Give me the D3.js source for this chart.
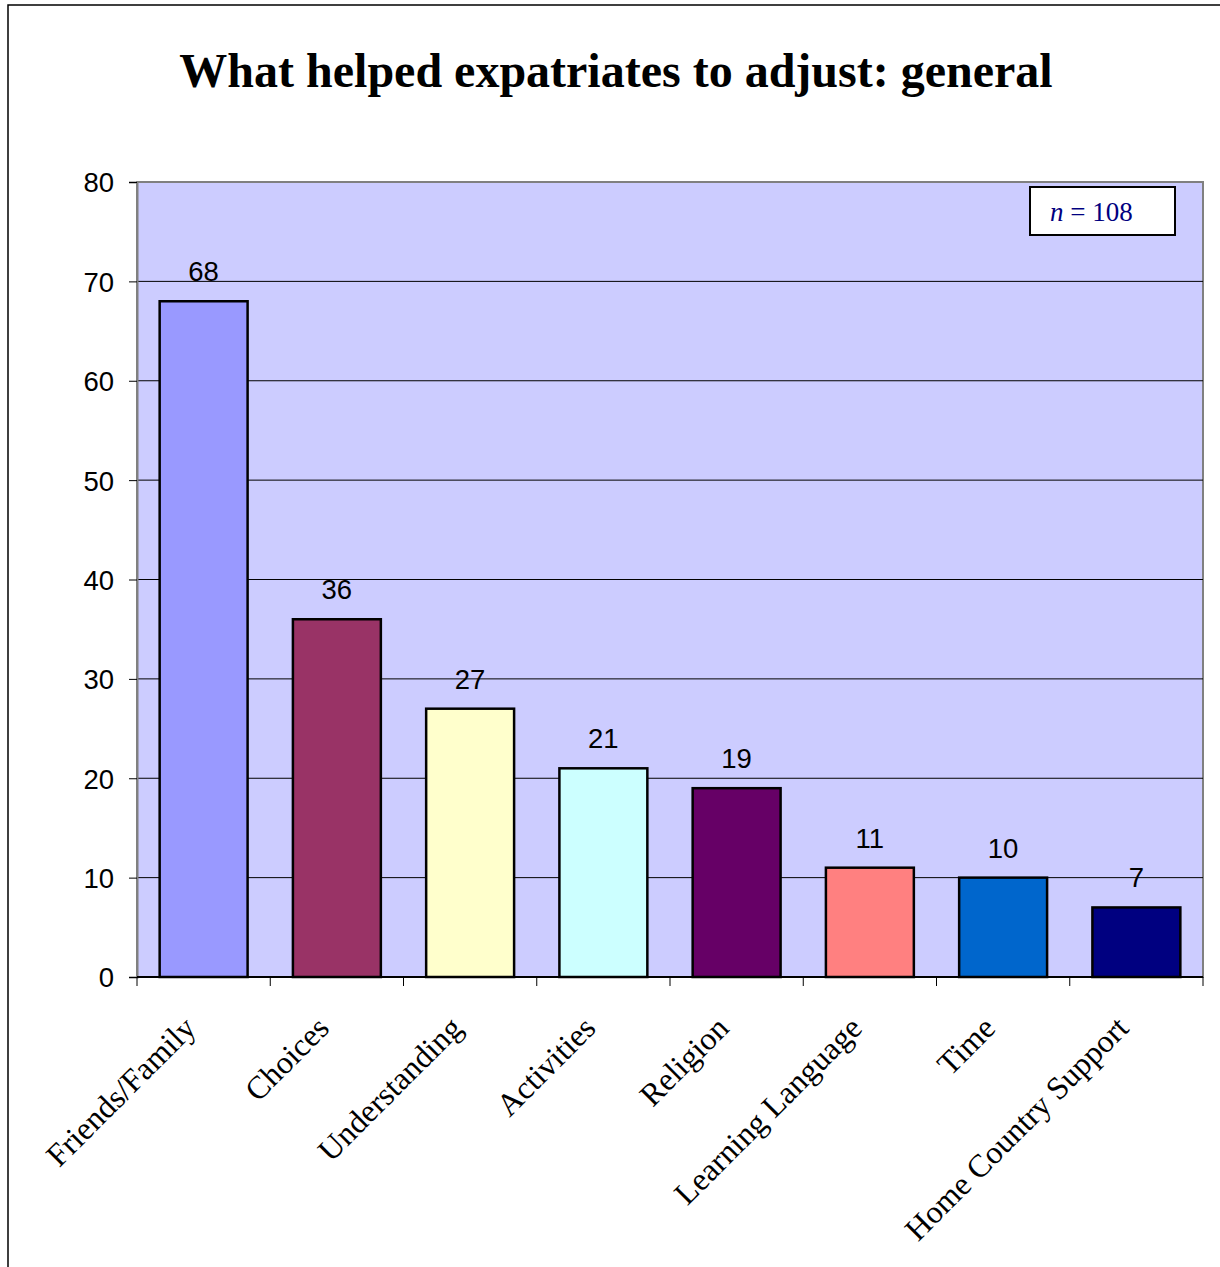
<!DOCTYPE html>
<html>
<head>
<meta charset="utf-8">
<script src="https://cdn.jsdelivr.net/npm/d3@7"></script>
<style>
  body { margin: 0; background: #fff; }
  svg { display: block; }
</style>
</head>
<body>
<script>
// values
const categories = ["Friends/Family", "Choices", "Understanding", "Activities", "Religion", "Learning Language", "Time", "Home Country Support"];
const counts = [68, 36, 27, 21, 19, 11, 10, 7];
const barColors = ["#9999FF", "#993366", "#FFFFCC", "#CCFFFF", "#660066", "#FF8080", "#0066CC", "#000080"];
const yTicks = [0, 10, 20, 30, 40, 50, 60, 70, 80];
const titleText = "What helped expatriates to adjust: general";
const sampleSize = 108;

const width = 1220, height = 1267;
const plot = { left: 137, right: 1203, top: 182, bottom: 977 };

const svg = d3.select("body").append("svg")
  .attr("width", width)
  .attr("height", height);

// outer frame (runs off the right/bottom edge in the original)
svg.append("rect")
  .attr("x", 8).attr("y", 5)
  .attr("width", width + 20).attr("height", height + 20)
  .attr("fill", "#fff")
  .attr("stroke", "#000")
  .attr("stroke-width", 1.5);

svg.append("text")
  .attr("x", 616).attr("y", 87)
  .attr("text-anchor", "middle")
  .style("font", "bold 48px 'Liberation Serif', 'Times New Roman', serif")
  .text(titleText);

const x = d3.scaleBand()
  .domain(categories)
  .range([plot.left, plot.right])
  .paddingInner(0.34)
  .paddingOuter(0.17);

const y = d3.scaleLinear()
  .domain([0, 80])
  .range([plot.bottom, plot.top]);

// plot background
svg.append("rect")
  .attr("x", plot.left).attr("y", plot.top)
  .attr("width", plot.right - plot.left)
  .attr("height", plot.bottom - plot.top)
  .attr("fill", "#CCCCFF")
  .attr("stroke", "#808080")
  .attr("stroke-width", 2);

// gridlines
svg.append("g")
  .selectAll("line")
  .data(yTicks.slice(1, -1))
  .enter().append("line")
    .attr("x1", plot.left).attr("x2", plot.right)
    .attr("y1", d => y(d)).attr("y2", d => y(d))
    .attr("stroke", "#000")
    .attr("stroke-width", 1);

// y axis
const yAxis = svg.append("g")
  .attr("transform", `translate(${plot.left},0)`)
  .call(d3.axisLeft(y).tickValues(yTicks).tickSize(8).tickPadding(15));
yAxis.select(".domain").attr("stroke", "#808080").attr("stroke-width", 2);
yAxis.selectAll(".tick line").attr("stroke", "#000");
yAxis.selectAll(".tick text")
  .attr("fill", "#000")
  .attr("dy", "0.36em")
  .style("font", "27.5px 'Liberation Sans', Arial, sans-serif");

// x axis: ticks sit on the band boundaries
const step = x.step();
const boundaries = d3.range(categories.length + 1).map(i => plot.left + i * step);
svg.append("line")
  .attr("x1", plot.left).attr("x2", plot.right)
  .attr("y1", plot.bottom).attr("y2", plot.bottom)
  .attr("stroke", "#000").attr("stroke-width", 2);
svg.append("g")
  .selectAll("line")
  .data(boundaries)
  .enter().append("line")
    .attr("x1", d => d).attr("x2", d => d)
    .attr("y1", plot.bottom).attr("y2", plot.bottom + 9)
    .attr("stroke", "#000");

// bars
svg.append("g")
  .selectAll("rect")
  .data(categories)
  .enter().append("rect")
    .attr("x", d => x(d))
    .attr("y", (d, i) => y(counts[i]))
    .attr("width", x.bandwidth())
    .attr("height", (d, i) => y(0) - y(counts[i]))
    .attr("fill", (d, i) => barColors[i])
    .attr("stroke", "#000")
    .attr("stroke-width", 2.5);

// value labels
svg.append("g")
  .selectAll("text")
  .data(categories)
  .enter().append("text")
    .attr("x", d => x(d) + x.bandwidth() / 2)
    .attr("y", (d, i) => y(counts[i]) - 20)
    .attr("text-anchor", "middle")
    .style("font", "27.5px 'Liberation Sans', Arial, sans-serif")
    .text((d, i) => counts[i]);

// category labels, rotated
svg.append("g")
  .selectAll("text")
  .data(categories)
  .enter().append("text")
    .attr("transform", d => `translate(${x(d) + x.bandwidth() / 2 - 6},1030) rotate(-45)`)
    .attr("text-anchor", "end")
    .style("font", "32px 'Liberation Serif', 'Times New Roman', serif")
    .text(d => d);

// n box
const nBox = svg.append("g").attr("transform", "translate(1030,187)");
nBox.append("rect")
  .attr("width", 145).attr("height", 48)
  .attr("fill", "#fff")
  .attr("stroke", "#000")
  .attr("stroke-width", 2);
const nText = nBox.append("text")
  .attr("x", 20).attr("y", 34)
  .attr("fill", "#000080")
  .style("font", "27px 'Liberation Serif', 'Times New Roman', serif");
nText.append("tspan").style("font-style", "italic").text("n");
nText.append("tspan").text(` = ${sampleSize}`);
</script>
</body>
</html>
